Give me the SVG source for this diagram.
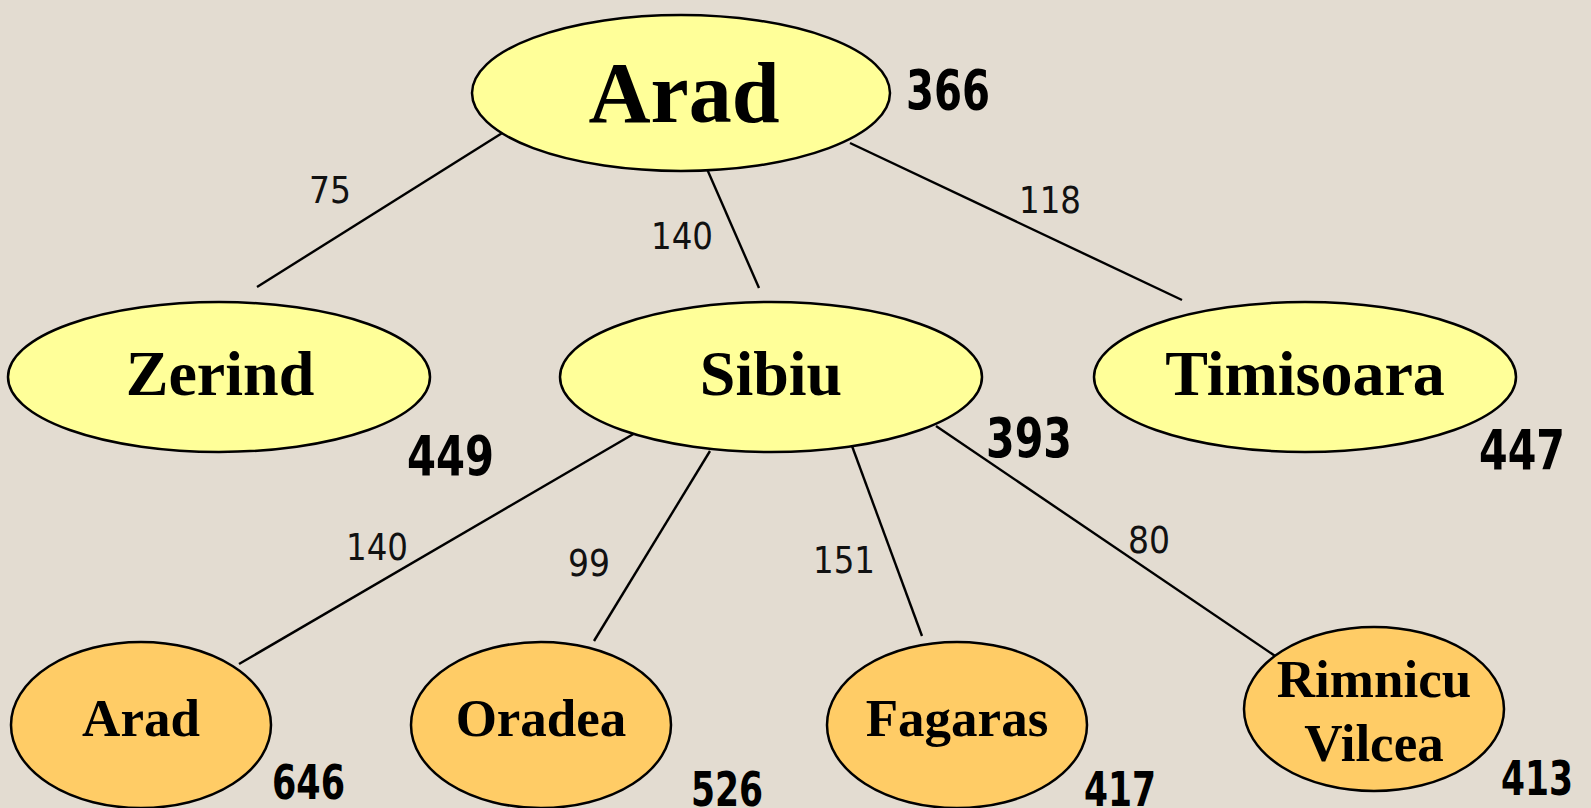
<svg xmlns="http://www.w3.org/2000/svg" width="1591" height="808" viewBox="0 0 1591 808">
<style>
.bg{fill:#e3dcd1}
.y{fill:#ffff99;stroke:#000;stroke-width:2.5}
.o{fill:#ffcc66;stroke:#000;stroke-width:2.5}
.nm{font-family:"Liberation Serif","Times New Roman",serif;font-weight:bold;fill:#000;text-anchor:middle}
.h{font-family:"DejaVu Sans Condensed","DejaVu Sans",sans-serif;font-weight:bold;fill:#000}
.e{font-family:"DejaVu Sans Condensed","DejaVu Sans",sans-serif;fill:#111;text-anchor:middle;font-size:38px}
.ln{stroke:#000;stroke-width:2.4;fill:none}
</style>
<rect class="bg" x="0" y="0" width="1591" height="808"/>
<g id="connectors">
<line class="ln" x1="507" y1="130" x2="257" y2="287"/>
<line class="ln" x1="707" y1="169" x2="759" y2="288"/>
<line class="ln" x1="850" y1="143" x2="1182" y2="300"/>
<line class="ln" x1="642" y1="429" x2="239" y2="664"/>
<line class="ln" x1="710" y1="451" x2="594" y2="641"/>
<line class="ln" x1="852" y1="446" x2="922" y2="636"/>
<line class="ln" x1="936" y1="426" x2="1281" y2="660"/>
<text class="e" x="330" y="203" textLength="42" lengthAdjust="spacingAndGlyphs">75</text>
<text class="e" x="682" y="249" textLength="62" lengthAdjust="spacingAndGlyphs">140</text>
<text class="e" x="1050" y="213" textLength="62" lengthAdjust="spacingAndGlyphs">118</text>
<text class="e" x="377" y="560" textLength="62" lengthAdjust="spacingAndGlyphs">140</text>
<text class="e" x="589" y="576" textLength="42" lengthAdjust="spacingAndGlyphs">99</text>
<text class="e" x="844" y="573" textLength="62" lengthAdjust="spacingAndGlyphs">151</text>
<text class="e" x="1149" y="553" textLength="42" lengthAdjust="spacingAndGlyphs">80</text>
</g>
<g id="arad-root">
<ellipse class="y" cx="681" cy="93" rx="209" ry="78"/>
<text class="nm" x="684" y="122" font-size="86">Arad</text>
<text class="h" x="906" y="109" font-size="56" textLength="84" lengthAdjust="spacingAndGlyphs">366</text>
</g>
<g id="zerind">
<ellipse class="y" cx="219" cy="377" rx="211" ry="75"/>
<text class="nm" x="220" y="395" font-size="64">Zerind</text>
<text class="h" x="407" y="475" font-size="56" textLength="87" lengthAdjust="spacingAndGlyphs">449</text>
</g>
<g id="sibiu">
<ellipse class="y" cx="771" cy="377" rx="211" ry="75"/>
<text class="nm" x="771" y="395" font-size="64">Sibiu</text>
<text class="h" x="986" y="457" font-size="56" textLength="86" lengthAdjust="spacingAndGlyphs">393</text>
</g>
<g id="timisoara">
<ellipse class="y" cx="1305" cy="377" rx="211" ry="75"/>
<text class="nm" x="1305" y="395" font-size="64">Timisoara</text>
<text class="h" x="1479" y="469" font-size="56" textLength="86" lengthAdjust="spacingAndGlyphs">447</text>
</g>
<g id="arad-leaf">
<ellipse class="o" cx="141" cy="725" rx="130" ry="83"/>
<text class="nm" x="141" y="736" font-size="53">Arad</text>
<text class="h" x="272" y="799" font-size="48" textLength="73" lengthAdjust="spacingAndGlyphs">646</text>
</g>
<g id="oradea">
<ellipse class="o" cx="541" cy="725" rx="130" ry="83"/>
<text class="nm" x="541" y="736" font-size="53">Oradea</text>
<text class="h" x="691" y="806" font-size="48" textLength="72" lengthAdjust="spacingAndGlyphs">526</text>
</g>
<g id="fagaras">
<ellipse class="o" cx="957" cy="725" rx="130" ry="83"/>
<text class="nm" x="957" y="736" font-size="53">Fagaras</text>
<text class="h" x="1084" y="806" font-size="48" textLength="72" lengthAdjust="spacingAndGlyphs">417</text>
</g>
<g id="rimnicu-vilcea">
<ellipse class="o" cx="1374" cy="709" rx="130" ry="82"/>
<text class="nm" x="1374" y="697" font-size="53">Rimnicu</text>
<text class="nm" x="1374" y="761" font-size="53">Vilcea</text>
<text class="h" x="1501" y="795" font-size="48" textLength="72" lengthAdjust="spacingAndGlyphs">413</text>
</g>
</svg>
